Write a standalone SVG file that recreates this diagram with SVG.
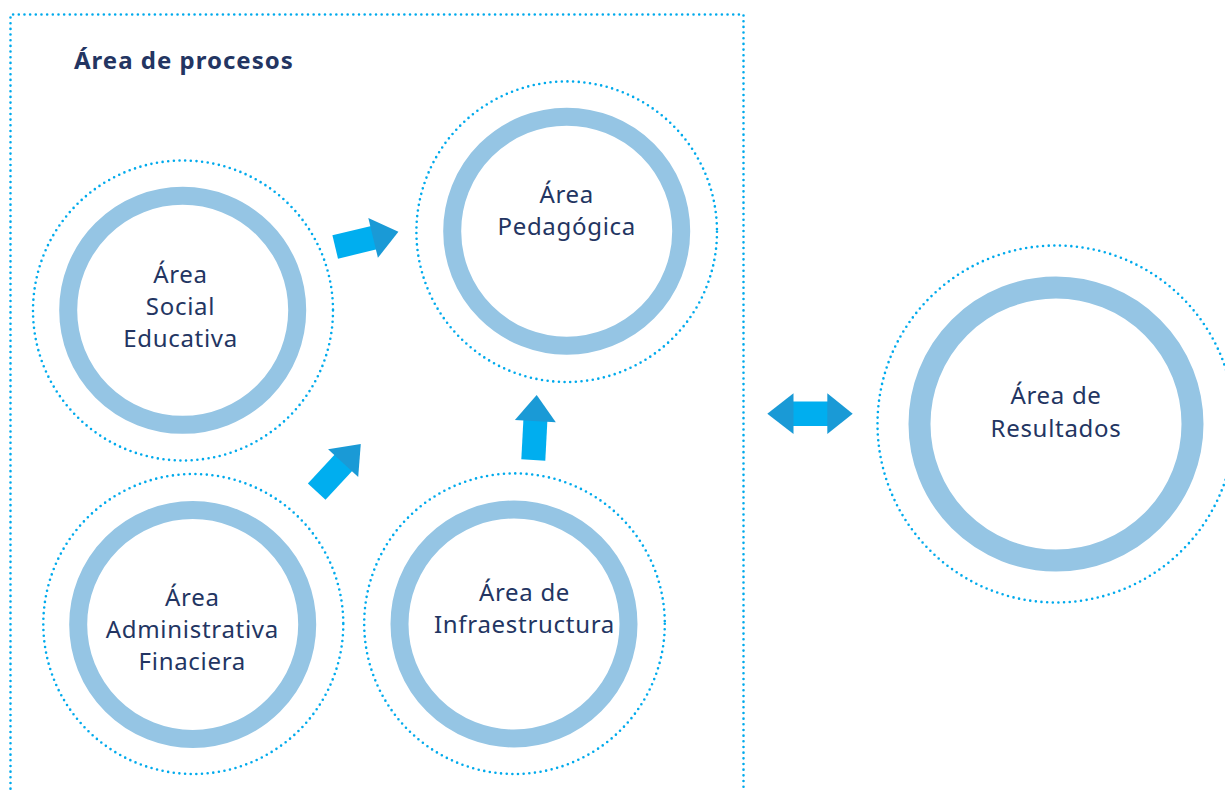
<svg xmlns="http://www.w3.org/2000/svg" width="1225" height="791" viewBox="0 0 1225 791">
<defs>
<style>
.dot{fill:none;stroke:#00AAEC;stroke-width:2.6;stroke-dasharray:0 5.67;stroke-linecap:round}
.ring{fill:#fff;stroke:#95C5E4;stroke-width:18}
.lbl{font-family:"Noto Sans","Liberation Sans",sans-serif;font-size:24px;fill:#233562;text-anchor:middle;letter-spacing:0.7px}
.title{font-family:"Noto Sans","Liberation Sans",sans-serif;font-size:24px;font-weight:700;fill:#233562;letter-spacing:1px}
.body{fill:#00AEEF}
.head{fill:#1A9AD6}
</style>
<g id="arrowShape">
<rect class="body" x="0" y="-12" width="40" height="24"/>
<polygon class="head" points="39,-20.5 65,0 39,20.5"/>
</g>
</defs>
<rect width="1225" height="791" fill="#fff"/>
<g id="frame">
<path class="dot" d="M10.5,800 V14.5 H743.5 V800"/>
<text class="title" x="74" y="69">Área de procesos</text>
</g>
<g id="social">
<circle class="dot" cx="183" cy="310.5" r="150"/>
<circle class="ring" cx="182.7" cy="310.3" r="114.5"/>
<text class="lbl" x="180.5" y="282.7">Área</text>
<text class="lbl" x="180.5" y="315">Social</text>
<text class="lbl" x="180.5" y="346.7">Educativa</text>
</g>
<g id="pedagogica">
<circle class="dot" cx="566.7" cy="231.7" r="150.3"/>
<circle class="ring" cx="566.7" cy="231.2" r="114.5"/>
<text class="lbl" x="566.7" y="202.7">Área</text>
<text class="lbl" x="566.7" y="235">Pedagógica</text>
</g>
<g id="administrativa">
<circle class="dot" cx="193.3" cy="624" r="150"/>
<circle class="ring" cx="192.7" cy="624.5" r="114.5"/>
<text class="lbl" x="192.3" y="606">Área</text>
<text class="lbl" x="192.3" y="637.7">Administrativa</text>
<text class="lbl" x="192.3" y="670">Finaciera</text>
</g>
<g id="infraestructura">
<circle class="dot" cx="514.5" cy="623.7" r="150.3"/>
<circle class="ring" cx="514" cy="624" r="114.5"/>
<text class="lbl" x="524.5" y="600.7">Área de</text>
<text class="lbl" x="524.5" y="632.7">Infraestructura</text>
</g>
<g id="resultados">
<circle class="dot" cx="1056" cy="424" r="178.5"/>
<circle class="ring" cx="1056" cy="424" r="136.5" style="stroke-width:22"/>
<text class="lbl" x="1056" y="404">Área de</text>
<text class="lbl" x="1056" y="436.7">Resultados</text>
</g>
<g id="connectors">
<use href="#arrowShape" transform="translate(335.2,247) rotate(-13.5)"/>
<use href="#arrowShape" transform="translate(316.7,491.7) rotate(-47.3)"/>
<use href="#arrowShape" transform="translate(533.3,460) rotate(-87)"/>
<g id="double-arrow">
<rect class="body" x="792" y="401.5" width="37" height="24.5"/>
<polygon class="head" points="767.3,413.7 793.5,393.3 793.5,434"/>
<polygon class="head" points="827.3,393.3 852.7,413.7 827.3,434"/>
</g>
</g>
</svg>
